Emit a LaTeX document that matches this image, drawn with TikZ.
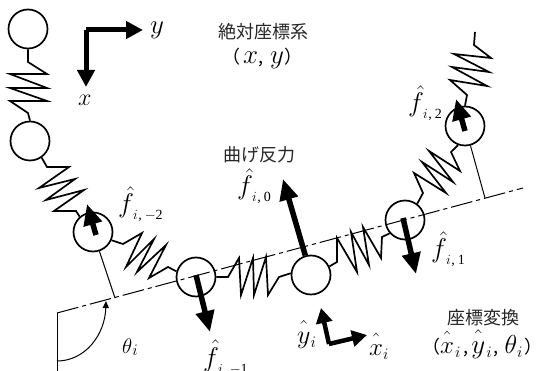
\documentclass[tikz,border=0pt]{standalone}
\usepackage{fix-cm}
\usepackage{fontspec}
\usetikzlibrary{arrows.meta}
\setmainfont{Liberation Serif}
\newfontfamily\cjk{Noto Sans CJK JP}
\newcommand{\fsz}[1]{\fontsize{#1}{#1}\selectfont}
\newcommand{\jpch}[1]{{\cjk\fsz{18}#1}}
\newcommand{\subi}[1]{\raisebox{-4pt}{\fsz{16}$#1$}}
\newcommand{\hatf}[1]{{\fsz{27}$\hat{f}$}\kern-1pt{\fsz{14}\raisebox{-7pt}{$i$\kern.5pt,\kern3pt #1}}}
\newcommand{\hatted}[2]{{\fsz{#1}$\hat{\vphantom{t}#2}$}}
\newcommand{\coil}[3]{%
  \draw[coilline] (#1) -- #2 -- (#3);
}
\tikzset{
  mass/.style={circle,draw,line width=1.7pt,minimum size=39pt,inner sep=0pt},
  coilline/.style={line width=1.7pt,line join=miter},
  force/.style={line width=5.5pt,-{Triangle[length=21pt,width=18pt]}},
  axisline/.style={line width=5pt,-{Triangle[length=17pt,width=17pt]}},
  localaxis/.style={line width=4.5pt,-{Triangle[length=15pt,width=16pt]}},
  thinline/.style={line width=1pt},
  jp/.style={font=\cjk\fsz{18},inner sep=0pt,text=black!85},
  lab/.style={inner sep=0pt,anchor=base west},
}
\begin{document}
\begin{tikzpicture}[x=1pt,y=-1pt]
  \useasboundingbox (0,0) rectangle (538,371);
  % masses
  \node[mass] (m1) at (28,29) {};
  \node[mass] (m2) at (30,141) {};
  \node[mass] (m3) at (93,232) {};
  \node[mass] (m4) at (196,277) {};
  \node[mass] (m5) at (311,275) {};
  \node[mass] (m6) at (405,220) {};
  \node[mass] (m7) at (465,126) {};
  % springs
  \coil{m1.-90}{(28,62) -- (47,74) -- (10,74) -- (47,88) -- (10,88) -- (47,101) -- (10,101) -- (28,113)}{m2.90}
  \coil{m2.-55}{(47,167) -- (69,167) -- (39,188) -- (75,179) -- (46,200) -- (84,190) -- (54,211) -- (76,211)}{m3.131}
  \coil{m3.-24}{(123,244) -- (142,233) -- (126,267) -- (154,239) -- (137,272) -- (166,245) -- (149,278) -- (168,267)}{m4.164}
  \coil{m4.0}{(228,277) -- (239,258) -- (241,295) -- (253,258) -- (254,295) -- (266,257) -- (268,295) -- (279,277)}{m5.175}
  \coil{m5.25}{(337,262) -- (337,238) -- (357,272) -- (351,232) -- (369,265) -- (363,227) -- (381,258) -- (382,237)}{m6.221}
  \coil{m6.53}{(423,193) -- (414,173) -- (446,193) -- (422,162) -- (453,182) -- (429,151) -- (460,171) -- (451,152)}{m7.250}
  \coordinate (topend) at (475,32);
  \coil{m7.90}{(467,95) -- (450,80) -- (487,86) -- (452,67) -- (489,72) -- (454,54) -- (491,58) -- (474,45)}{topend}
  % centre line and angle
  \coordinate (lineA) at (57,313);
  \coordinate (lineB) at (523,188);
  \coordinate (lineC) at (57,371);
  \coordinate (arcA) at (57,361);
  \coordinate (arcB) at (106,301);
  \coordinate (footL) at (115,298);
  \coordinate (footR) at (485,198);
  \draw[thinline,dash pattern=on 22pt off 4pt on 4pt off 4pt] (lineA) -- (lineB);
  \draw[thinline] (lineC) -- (lineA);
  \draw[thinline,-{Triangle[length=7pt,width=6pt]}] (arcA) .. controls (85,361) and (105,335) .. (arcB);
  \draw[thinline] (footL) -- (m3);
  \draw[thinline] (footR) -- (m7);
  % forces
  \coordinate (tipA) at (87,204);
  \coordinate (tipB) at (210,332);
  \coordinate (tipC) at (283,179);
  \coordinate (tipD) at (416,274);
  \coordinate (tipE) at (456,99);
  \draw[force] (96,235) -- (tipA);
  \draw[force] (196,275) -- (tipB);
  \draw[force] (m5) -- (tipC);
  \draw[force] (403,218) -- (tipD);
  \draw[force] (465,131) -- (tipE);
  % axes
  \coordinate (org) at (86,30);
  \coordinate (orgy) at (143,30);
  \coordinate (orgx) at (86,87);
  \draw[axisline] (org) -- (orgy);
  \draw[axisline] (org) -- (orgx);
  \coordinate (loc) at (329,344);
  \coordinate (locy) at (321,308);
  \coordinate (locx) at (367,335);
  \draw[localaxis] (loc) -- (locy);
  \draw[localaxis] (loc) -- (locx);
  % labels
  \node[lab,font=\fsz{27}] (ylab) at (150,34) {$y$};
  \node[lab,font=\fsz{24}] (xlab) at (78,106) {$x$};
  \node[jp] (title) at (263,32) {絶対座標系};
  \node[lab] (pair) at (222,64) {\jpch{（}\kern3pt{\fsz{27}$x$}\jpch{,}\kern7pt{\fsz{27}$y$}\jpch{）}};
  \node[jp] (bend) at (259,155) {曲げ反力};
  \node[lab] (f0) at (237,195) {\hatf{0}};
  \node[lab] (fm2) at (118,213) {\hatf{$-$2}};
  \node[lab] (fm1) at (203,366) {\hatf{$-$1}};
  \node[lab] (f1) at (431,258) {\hatf{1}};
  \node[lab] (f2) at (408,112) {\hatf{2}};
  \node[lab,font=\fsz{21}] (theta) at (122,353) {$\theta$\raisebox{-2pt}{\fsz{16}$i$}};
  \node[lab] (yi) at (297,343) {\hatted{26}{y}\subi{i}};
  \node[lab] (xi) at (369,355) {\hatted{25}{x}\subi{i}};
  \node[jp] (conv) at (483,318) {座標変換};
  \node[lab] (triple) at (422,353) {\jpch{（}\hatted{25}{x}\kern1pt\subi{i}\kern3pt\jpch{,}\kern3pt\hatted{27}{y}\kern1pt\subi{i}\kern2pt\jpch{,}\kern6pt{\fsz{26}$\theta$}\subi{i}\kern2pt\jpch{）}};
\end{tikzpicture}
\end{document}
